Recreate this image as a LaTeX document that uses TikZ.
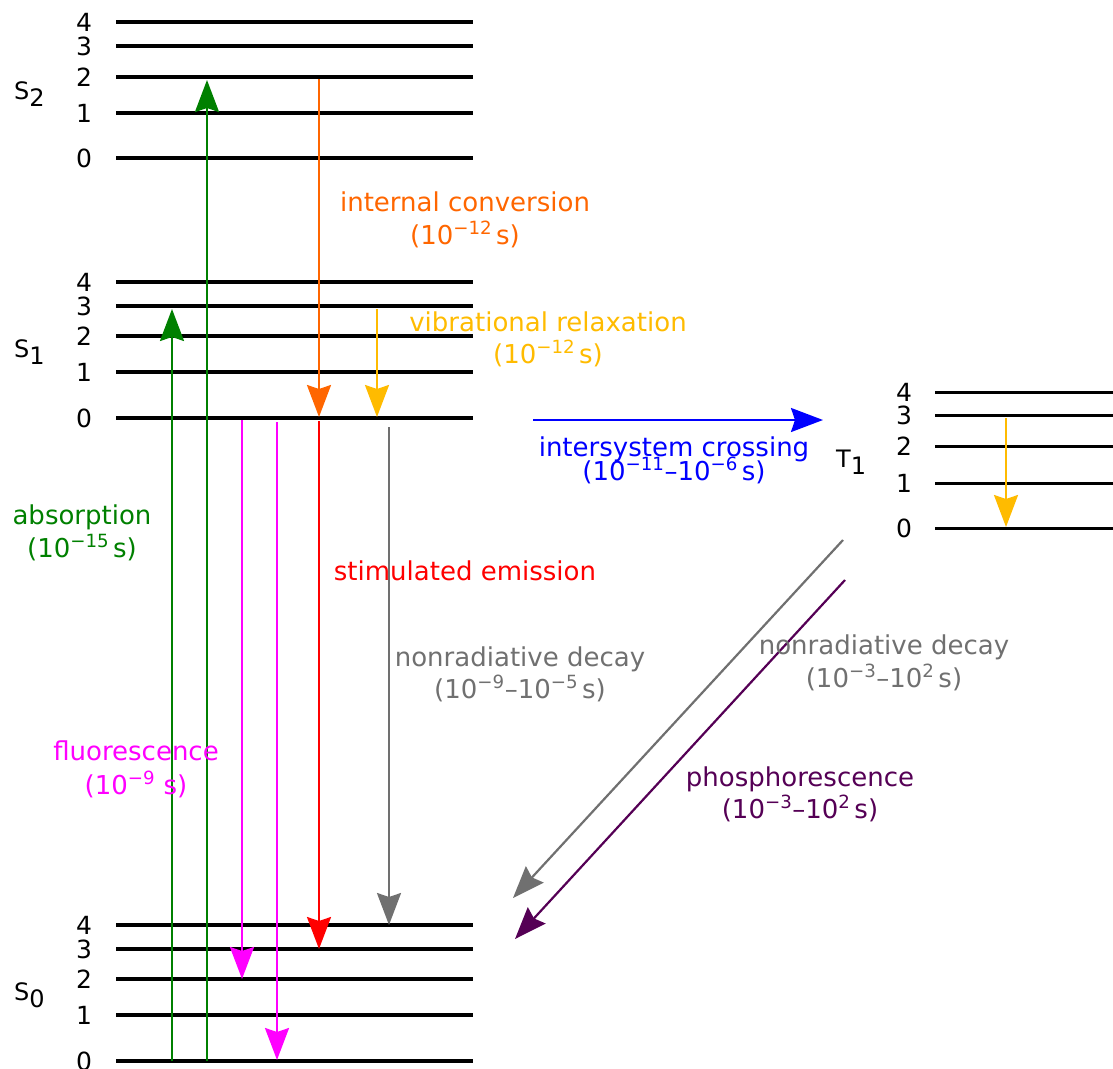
\documentclass[tikz,border=0pt]{standalone}
\usepackage{fontspec}
\setmainfont{DejaVu Sans}
\usetikzlibrary{arrows.meta}
\definecolor{icorange}{RGB}{255,102,0}
\definecolor{vryellow}{RGB}{255,187,0}
\definecolor{absgreen}{RGB}{0,128,0}
\definecolor{flmagenta}{RGB}{255,0,255}
\definecolor{decgray}{RGB}{112,112,112}
\definecolor{phospurple}{RGB}{85,0,85}
\newcommand{\tsup}[1]{\textsuperscript{#1}}
\newcommand{\sgap}{\kern0.15em}
\newcommand{\statename}[2]{#1\raisebox{-7pt}{\fontsize{24}{26}\selectfont #2}}

\begin{document}
\begin{tikzpicture}[x=1pt,y=-1pt,
  slevel/.style={line width=4.4pt},
  tlevel/.style={line width=3pt},
  trans/.style={line width=2.2pt,-{Stealth[length=32pt,width=24pt,inset=4pt]}},
  lbl/.style={font=\fontsize{26}{33}\selectfont, inner sep=0pt, anchor=base},
  num/.style={font=\fontsize{25}{30}\selectfont, inner sep=0pt, anchor=center},
  statelbl/.style={font=\fontsize{24}{28}\selectfont, inner sep=0pt, anchor=base west},
]
\useasboundingbox (0,0) rectangle (1113,1068);

% ---- singlet and triplet vibrational levels ----
\foreach \st/\ys in {S2/{22,46,77,113,158}, S1/{282,306,336,372,418}, S0/{925,949,979,1015,1061}}{
  \foreach \y [count=\i from 0] in \ys {
    \pgfmathtruncatemacro{\v}{4-\i}
    \coordinate (\st-\v-l) at (116,\y);
    \coordinate (\st-\v-r) at (473,\y);
    \node[num] (\st-\v-n) at (84,\y) {\v};
    \draw[slevel] (\st-\v-l) -- (\st-\v-r);
  }
}
\foreach \y [count=\i from 0] in {392,415,446,483,528} {
  \pgfmathtruncatemacro{\v}{4-\i}
  \coordinate (T1-\v-l) at (935,\y);
  \coordinate (T1-\v-r) at (1113,\y);
  \node[num] (T1-\v-n) at (904,\y) {\v};
  \draw[tlevel] (T1-\v-l) -- (T1-\v-r);
}

% ---- state labels ----
\node[statelbl] (S2-name) at (14,99) {\statename{S}{2}};
\node[statelbl] (S1-name) at (14,357) {\statename{S}{1}};
\node[statelbl] (S0-name) at (14,1000) {\statename{S}{0}};
\node[statelbl] (T1-name) at (836,467) {\statename{T}{1}};

% ---- transition end points ----
\coordinate (abs1-a) at (172,1061); \coordinate (abs1-b) at (172,309);
\coordinate (abs2-a) at (207,1061); \coordinate (abs2-b) at (207,80);
\coordinate (ic-a)   at (319,79);   \coordinate (ic-b)   at (319,417);
\coordinate (vr-a)   at (377,309);  \coordinate (vr-b)   at (377,417);
\coordinate (fl1-a)  at (242,420);  \coordinate (fl1-b)  at (242,979);
\coordinate (fl2-a)  at (277,422);  \coordinate (fl2-b)  at (277,1060);
\coordinate (se-a)   at (319,421);  \coordinate (se-b)   at (319,949);
\coordinate (nr1-a)  at (389,427);  \coordinate (nr1-b)  at (389,925);
\coordinate (isc-a)  at (533,420);  \coordinate (isc-b)  at (823,420);
\coordinate (vrT-a)  at (1006,418); \coordinate (vrT-b)  at (1006,527);
\coordinate (nr2-a)  at (843,540);  \coordinate (nr2-b)  at (513,898);
\coordinate (ph-a)   at (845,580);  \coordinate (ph-b)   at (515,939);

% ---- transitions ----
\draw[trans, absgreen] (abs1-a) -- (abs1-b);
\draw[trans, absgreen] (abs2-a) -- (abs2-b);
\draw[trans, icorange] (ic-a) -- (ic-b);
\draw[trans, vryellow] (vr-a) -- (vr-b);
\draw[trans, flmagenta] (fl1-a) -- (fl1-b);
\draw[trans, flmagenta] (fl2-a) -- (fl2-b);
\draw[trans, red] (se-a) -- (se-b);
\draw[trans, decgray] (nr1-a) -- (nr1-b);
\draw[trans, blue] (isc-a) -- (isc-b);
\draw[trans, vryellow] (vrT-a) -- (vrT-b);
\draw[trans, decgray] (nr2-a) -- (nr2-b);
\draw[trans, phospurple] (ph-a) -- (ph-b);

% ---- labels ----
\node[lbl, icorange] (ic-t1) at (465,211) {internal conversion};
\node[lbl, icorange] (ic-t2) at (465,244) {(10\tsup{−12}\sgap s)};
\node[lbl, vryellow] (vr-t1) at (548,331) {vibrational relaxation};
\node[lbl, vryellow] (vr-t2) at (548,363) {(10\tsup{−12}\sgap s)};
\node[lbl, blue] (isc-t1) at (674,456) {intersystem crossing};
\node[lbl, blue] (isc-t2) at (674,480) {(10\tsup{−11}–10\tsup{−6}\sgap s)};
\node[lbl, absgreen] (abs-t1) at (82,524) {absorption};
\node[lbl, absgreen] (abs-t2) at (82,557) {(10\tsup{−15}\sgap s)};
\node[lbl, red] (se-t1) at (465,580) {stimulated emission};
\node[lbl, decgray] (nr1-t1) at (520,666) {nonradiative decay};
\node[lbl, decgray] (nr1-t2) at (520,698) {(10\tsup{−9}–10\tsup{−5}\sgap s)};
\node[lbl, decgray] (nr2-t1) at (884,654) {nonradiative decay};
\node[lbl, decgray] (nr2-t2) at (884,687) {(10\tsup{−3}–10\tsup{2}\sgap s)};
\node[lbl, flmagenta] (fl-t1) at (136,760) {fluorescence};
\node[lbl, flmagenta] (fl-t2) at (136,794) {(10\tsup{−9} s)};
\node[lbl, phospurple] (ph-t1) at (800,786) {phosphorescence};
\node[lbl, phospurple] (ph-t2) at (800,818) {(10\tsup{−3}–10\tsup{2}\sgap s)};
\end{tikzpicture}
\end{document}
